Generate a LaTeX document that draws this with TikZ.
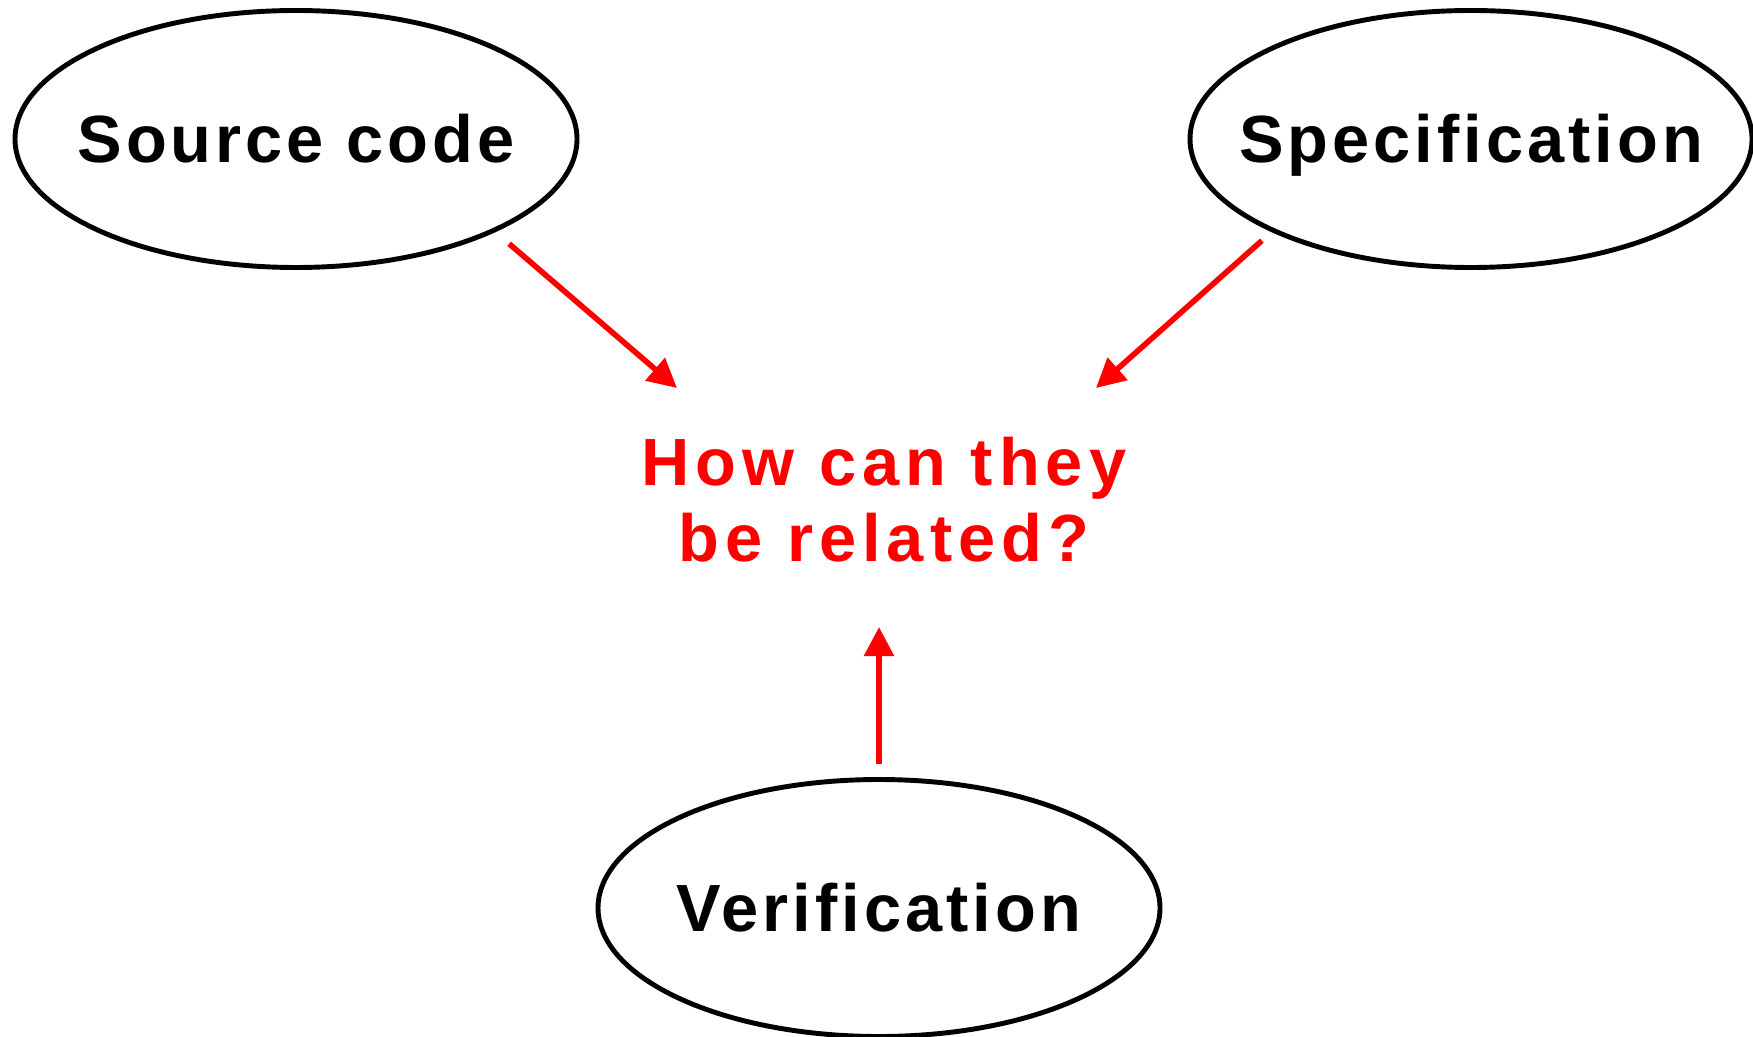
\documentclass[tikz,border=0pt]{standalone}
\usepackage{fontspec}
\usepackage{xcolor}
\usepackage{tikz}
\usetikzlibrary{arrows.meta,positioning,shapes.geometric}

\newfontfamily\boldsans[LetterSpace=6]{Liberation Sans Bold}
\newfontfamily\redsans[LetterSpace=9]{Liberation Sans Bold}

\begin{document}
\begin{tikzpicture}[
  font=\boldsans\fontsize{19}{21.6}\selectfont,
  blob/.style={draw, ellipse, line width=1.4pt, inner xsep=-1cm, inner ysep=0pt,
    minimum width=5.62cm, minimum height=2.57cm, text height=13.6pt, text depth=0pt},
  arr/.style={-{Triangle[length=2.9mm, width=2.9mm]}, red, line width=1.6pt},
  question/.style={font=\redsans\fontsize{19}{21.6}\selectfont, text=red, align=center}
]
  \useasboundingbox (0,0) rectangle (17.53,-10.37);

  % the three ellipses
  \node[blob] (src) at (2.96,-1.39) {Source code};
  \node[blob] (spec) at (14.71,-1.39) {Specification};
  \node[blob] (ver) at (8.79,-9.08) {Verification};

  % question in the middle
  \node[question] (q) at (8.84,-5.0) {How can they\\be related?};

  % arrow tips
  \coordinate (tipL) at (6.77,-3.88);
  \coordinate (tipR) at (10.96,-3.88);
  \coordinate (tipV) at (8.79,-6.27);

  \draw[arr, shorten <=0.18cm] (src.-25) -- (tipL);
  \draw[arr, shorten <=0.13cm] (spec.-155) -- (tipR);
  \draw[arr, shorten <=0.13cm] (ver.north) -- (tipV);
\end{tikzpicture}
\end{document}
